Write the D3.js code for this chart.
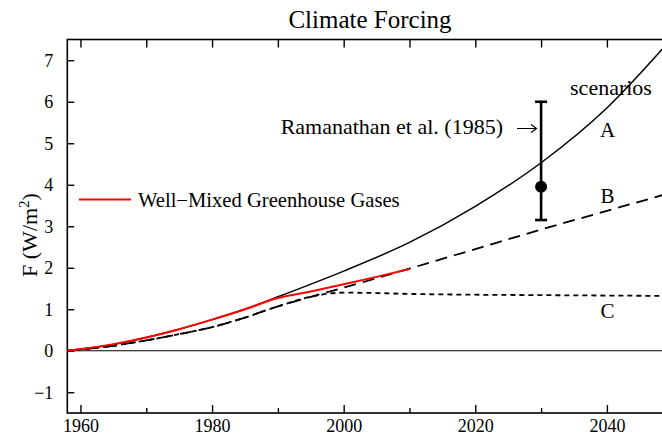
<!DOCTYPE html>
<html><head><meta charset="utf-8">
<script src="https://cdn.jsdelivr.net/npm/d3@7/dist/d3.min.js"></script>
<style>
html,body{margin:0;padding:0;background:#fff;}
svg{display:block;font-family:"Liberation Serif","DejaVu Serif",serif;}
</style></head>
<body><svg id="c" width="662" height="437"></svg>
<script>
// ---- data ----
const yearsA = [1958, 1965, 1970, 1975, 1980, 1985, 1990, 2000, 2010, 2020, 2030, 2040, 2050];
const scenarioA = [0, 0.15, 0.32, 0.52, 0.75, 1.0, 1.3, 1.92, 2.61, 3.48, 4.53, 5.85, 7.55];
const yearsB = [1958, 1965, 1970, 1975, 1980, 1985, 1990, 1995, 2000, 2010, 2020, 2030, 2040, 2050];
const scenarioB = [0, 0.12, 0.25, 0.4, 0.57, 0.8, 1.07, 1.3, 1.52, 1.98, 2.45, 2.92, 3.37, 3.82];
const yearsC = [1958, 1965, 1970, 1975, 1980, 1985, 1990, 1995, 2000, 2005, 2010, 2020, 2030, 2040, 2050];
const scenarioC = [0, 0.12, 0.25, 0.4, 0.57, 0.8, 1.07, 1.3, 1.4, 1.39, 1.37, 1.35, 1.34, 1.33, 1.32];
const yearsGHG = [1958, 1960, 1965, 1970, 1975, 1980, 1985, 1990, 1995, 2000, 2005, 2010];
const ghg = [0, 0.04, 0.16, 0.32, 0.52, 0.75, 1.0, 1.27, 1.43, 1.6, 1.78, 1.97];
const errYear = [2030];
const errMid = [3.95];
const errLow = [3.15];
const errHigh = [6.0];
const xTickLabels = [1960, 1980, 2000, 2020, 2040];
const xMinorTicks = [1960, 1970, 1980, 1990, 2000, 2010, 2020, 2030, 2040, 2050];
const yTickLabels = [-1, 0, 1, 2, 3, 4, 5, 6, 7];
const scenarioLabels = ["A", "B", "C"];
const scenarioLabelValues = [5.15, 3.55, 0.78];

// ---- scales ----
const svg = d3.select("#c");
const x = d3.scaleLinear().domain([1958, 2050]).range([67.3, 672.7]);
const y = d3.scaleLinear().domain([-1.5, 7.5]).range([413, 39.5]);
const fmt = v => v < 0 ? "\u2212" + Math.abs(v) : String(v);

// frame
svg.append("rect").attr("x", x(1958)).attr("y", y(7.5)).attr("width", x(2050) - x(1958)).attr("height", y(-1.5) - y(7.5))
  .attr("fill", "none").attr("stroke", "#000").attr("stroke-width", 1.6);

// axes (ticks inward)
const xb = svg.append("g").attr("transform", `translate(0,${y(-1.5)})`)
  .call(d3.axisBottom(x).tickValues(xMinorTicks).tickSizeInner(-5).tickSizeOuter(0).tickFormat(""));
xb.selectAll(".tick line").attr("y2", d => xTickLabels.includes(d) ? -8 : -5);
const xl = svg.append("g").attr("transform", `translate(0,${y(-1.5)})`)
  .call(d3.axisBottom(x).tickValues(xTickLabels).tickSize(0).tickPadding(6).tickFormat(d3.format("d")));
const xt = svg.append("g").attr("transform", `translate(0,${y(7.5)})`)
  .call(d3.axisTop(x).tickValues(xMinorTicks).tickSizeInner(-8).tickSizeOuter(0).tickFormat(""));
const yl = svg.append("g").attr("transform", `translate(${x(1958)},0)`)
  .call(d3.axisLeft(y).tickValues(yTickLabels).tickSizeInner(-7).tickSizeOuter(0).tickPadding(14).tickFormat(fmt));
[xb, xl, xt, yl].forEach(g => { g.attr("font-family", null); g.select(".domain").remove(); g.selectAll("line").attr("stroke", "#000").attr("stroke-width", 1.4); });
xl.selectAll("text").attr("font-size", 18).attr("fill", "#000");
yl.selectAll("text").attr("font-size", 18).attr("fill", "#000");

// zero line
svg.append("line").attr("x1", x(1958)).attr("x2", x(2050)).attr("y1", y(0)).attr("y2", y(0)).attr("stroke", "#000").attr("stroke-width", 1.2);

const line = d3.line().x(d => x(d[0])).y(d => y(d[1])).curve(d3.curveMonotoneX);
svg.append("path").datum(yearsC.map((t, i) => [t, scenarioC[i]])).attr("d", line)
  .attr("fill", "none").attr("stroke", "#000").attr("stroke-width", 1.8).attr("stroke-dasharray", "5,4");
svg.append("path").datum(yearsB.map((t, i) => [t, scenarioB[i]])).attr("d", line)
  .attr("fill", "none").attr("stroke", "#000").attr("stroke-width", 1.8).attr("stroke-dasharray", "12,7");
svg.append("path").datum(yearsA.map((t, i) => [t, scenarioA[i]])).attr("d", line)
  .attr("fill", "none").attr("stroke", "#000").attr("stroke-width", 1.5);
svg.append("path").datum(yearsGHG.map((t, i) => [t, ghg[i]])).attr("d", line)
  .attr("fill", "none").attr("stroke", "#ff0000").attr("stroke-width", 2);

// error bar
errYear.forEach((t, i) => {
  const g = svg.append("g").attr("stroke", "#000").attr("stroke-width", 2.6);
  g.append("line").attr("x1", x(t)).attr("x2", x(t)).attr("y1", y(errLow[i])).attr("y2", y(errHigh[i]));
  g.append("line").attr("x1", x(t) - 6).attr("x2", x(t) + 6).attr("y1", y(errLow[i])).attr("y2", y(errLow[i]));
  g.append("line").attr("x1", x(t) - 6).attr("x2", x(t) + 6).attr("y1", y(errHigh[i])).attr("y2", y(errHigh[i]));
  svg.append("circle").attr("cx", x(t)).attr("cy", y(errMid[i])).attr("r", 6).attr("fill", "#000");
});

// texts
const T = (tx, ty, s, size, anchor) => svg.append("text").attr("x", tx).attr("y", ty).attr("font-size", size)
  .attr("text-anchor", anchor || "start").attr("fill", "#000").text(s);
T(370, 28, "Climate Forcing", 25, "middle");
T(611, 95, "scenarios", 22, "middle");
T(503, 134, "Ramanathan et al. (1985)", 22, "end");
// arrow
svg.append("path").attr("d", "M517,128.5H536M531,124.5L536.5,128.5L531,132.5").attr("fill", "none").attr("stroke", "#000").attr("stroke-width", 1.2);
scenarioLabels.forEach((s, i) => T(607.5, y(scenarioLabelValues[i]), s, 21, "middle"));
svg.append("line").attr("x1", 79).attr("x2", 131).attr("y1", 199.5).attr("y2", 199.5).attr("stroke", "#ff0000").attr("stroke-width", 2);
T(138, 207, "Well\u2212Mixed Greenhouse Gases", 20.6);
svg.append("text").attr("transform", "translate(37,235) rotate(-90)").attr("text-anchor", "middle").attr("font-size", 22)
  .attr("fill", "#000").html('F (W/m<tspan dy="-8" font-size="15">2</tspan><tspan dy="8">)</tspan>');
</script></body></html>
